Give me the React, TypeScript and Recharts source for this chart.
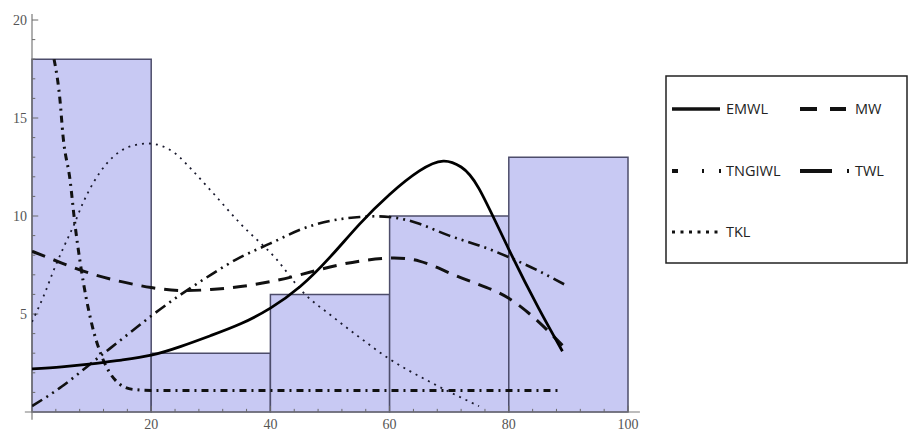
import { ComposedChart, Line, XAxis, YAxis, ReferenceArea, ReferenceLine } from "recharts";

// histogram bins
const binStart = [0, 20, 40, 60, 80];
const binEnd = [20, 40, 60, 80, 100];
const binCount = [18, 3, 6, 10, 13];

// fitted curves
const emwlX = [0, 5, 10, 15, 20, 25, 30, 35, 40, 45, 50, 55, 60, 65, 69, 72, 75, 80, 85, 89];
const emwlY = [2.2, 2.3, 2.45, 2.65, 2.9, 3.35, 3.9, 4.5, 5.3, 6.4, 7.9, 9.6, 11.1, 12.3, 12.8, 12.5, 11.4, 8.3, 5.3, 3.1];

const mwX = [0, 5, 10, 15, 20, 25, 30, 35, 40, 45, 50, 55, 60, 65, 70, 75, 80, 85, 89];
const mwY = [8.2, 7.6, 7.05, 6.65, 6.35, 6.2, 6.25, 6.4, 6.65, 7.0, 7.4, 7.7, 7.85, 7.7, 7.1, 6.5, 5.8, 4.6, 3.4];

const tngiwlX = [0, 5, 10, 15, 20, 25, 30, 35, 40, 45, 50, 55, 60, 65, 70, 75, 80, 85, 90];
const tngiwlY = [0.3, 1.3, 2.5, 3.7, 4.9, 6.0, 7.0, 7.9, 8.6, 9.3, 9.75, 9.95, 9.95, 9.6, 9.0, 8.5, 7.9, 7.2, 6.4];

const twlX = [3.7, 4.7, 5.2, 6.4, 7.2, 8.1, 10.1, 11.5, 12.5, 14.8, 17, 20, 40, 60, 80, 89];
const twlY = [18, 15.9, 14.1, 11.8, 9.6, 7.6, 4.4, 3.0, 2.3, 1.4, 1.15, 1.1, 1.1, 1.1, 1.1, 1.1];

const tklX = [0, 2.2, 3.6, 5.3, 6.9, 8.6, 10.3, 12.6, 14.8, 17, 19.5, 24, 27, 30, 35, 41, 45.5, 50.5, 55, 59.5, 67, 75];
const tklY = [4.6, 6.1, 7.2, 8.4, 9.45, 10.7, 11.7, 12.7, 13.3, 13.6, 13.7, 13.2, 12.3, 11.3, 9.6, 7.8, 6.1, 4.85, 3.8, 2.8, 1.5, 0.3];

const xMajor = [20, 40, 60, 80, 100];
const xTicks = [4, 8, 12, 16, 20, 24, 28, 32, 36, 40, 44, 48, 52, 56, 60, 64, 68, 72, 76, 80, 84, 88, 92, 96, 100];
const yMajor = [5, 10, 15, 20];
const yTicks = [1, 2, 3, 4, 5, 6, 7, 8, 9, 10, 11, 12, 13, 14, 15, 16, 17, 18, 19, 20];

const zip = (xs: number[], ys: number[]) => xs.map((x, i) => ({ x, y: ys[i] }));

const axisColor = "#7a7a7a";
const tickColor = "#6a6a6a";
const labelFont = "'Liberation Serif', 'DejaVu Serif', serif";

// tick labels only; the tick marks are drawn as reference segments so they sit above the bars
function XTick(props: any) {
  const { x, y, payload } = props;
  if (!xMajor.includes(payload.value)) return <g />;
  return (
    <text x={x} y={y + 17} textAnchor="middle" fontFamily={labelFont} fontSize={14} fill="#555">
      {payload.value}
    </text>
  );
}

function YTick(props: any) {
  const { x, y, payload } = props;
  if (!yMajor.includes(payload.value)) return <g />;
  return (
    <text x={x - 5} y={y + 5} textAnchor="end" fontFamily={labelFont} fontSize={14} fill="#555">
      {payload.value}
    </text>
  );
}

const legendFont = "'Open Sans', 'Noto Sans', sans-serif";

function LegendBox() {
  return (
    <svg width={244} height={190} style={{ position: "absolute", left: 665, top: 75 }}>
      <rect x={1} y={1} width={241} height={187} fill="#fff" stroke="#222" strokeWidth={1.5} />
      <g fontFamily={legendFont} fontSize={14.5} fill="#222">
        <line x1={7} x2={55} y1={34} y2={34} stroke="#111" strokeWidth={3.5} />
        <text x={61} y={39}>EMWL</text>
        <line x1={135} x2={181} y1={34} y2={34} stroke="#111" strokeWidth={4} strokeDasharray="17 13" />
        <text x={190} y={39}>MW</text>

        <line x1={7} x2={58} y1={96} y2={96} stroke="#111" strokeWidth={4} strokeDasharray="6 24 2 15 2 50" />
        <text x={61} y={101}>TNGIWL</text>
        <line x1={135} x2={186} y1={96} y2={96} stroke="#111" strokeWidth={4} strokeDasharray="32 15 2 50" />
        <text x={190} y={101}>TWL</text>

        <line x1={7} x2={54} y1={157} y2={157} stroke="#111" strokeWidth={3} strokeDasharray="3 5.5" />
        <text x={61} y={162}>TKL</text>
      </g>
    </svg>
  );
}

export default function App() {
  return (
    <div style={{ position: "relative", width: 910, height: 433, background: "#fff" }}>
      <style>{`body{margin:0}`}</style>
      <ComposedChart width={910} height={433} margin={{ top: 20, right: 282, left: 0, bottom: 0 }}>
        {binStart.map((s, i) => (
          <ReferenceArea
            key={s}
            x1={s}
            x2={binEnd[i]}
            y1={0}
            y2={binCount[i]}
            fill="#c8c9f3"
            fillOpacity={1}
            stroke="#4d4d6b"
            strokeWidth={1.5}
            ifOverflow="visible"
          />
        ))}
        <XAxis
          type="number"
          dataKey="x"
          domain={[0, 100]}
          ticks={xTicks}
          interval={0}
          tickSize={0}
          tickMargin={0}
          tick={<XTick />}
          axisLine={false}
          height={21}
          allowDataOverflow
        />
        <YAxis
          type="number"
          dataKey="y"
          domain={[0, 20]}
          ticks={yTicks}
          interval={0}
          tickSize={0}
          tickMargin={0}
          tick={<YTick />}
          axisLine={false}
          width={32}
          allowDataOverflow
        />
        <ReferenceLine segment={[{ x: -1.2, y: 0 }, { x: 102, y: 0 }]} stroke={axisColor} strokeWidth={1.2} ifOverflow="visible" />
        <ReferenceLine segment={[{ x: 0, y: -0.4 }, { x: 0, y: 20.3 }]} stroke={axisColor} strokeWidth={1.2} ifOverflow="visible" />
        {xTicks.map((t) => (
          <ReferenceLine
            key={`xt${t}`}
            segment={[{ x: t, y: 0 }, { x: t, y: xMajor.includes(t) ? 0.32 : 0.16 }]}
            stroke={tickColor}
            strokeWidth={1}
            ifOverflow="visible"
          />
        ))}
        {yTicks.map((t) => (
          <ReferenceLine
            key={`yt${t}`}
            segment={[{ x: 0, y: t }, { x: yMajor.includes(t) ? 1.05 : 0.55, y: t }]}
            stroke={tickColor}
            strokeWidth={1}
            ifOverflow="visible"
          />
        ))}
        <Line data={zip(tklX, tklY)} dataKey="y" name="TKL" type="monotone" stroke="#1a1a2e" strokeWidth={1.8} strokeDasharray="2 5" dot={false} isAnimationActive={false} />
        <Line data={zip(twlX, twlY)} dataKey="y" name="TWL" type="monotone" stroke="#111" strokeWidth={3} strokeDasharray="7 5 2 5" dot={false} isAnimationActive={false} />
        <Line data={zip(tngiwlX, tngiwlY)} dataKey="y" name="TNGIWL" type="natural" stroke="#111" strokeWidth={2.6} strokeDasharray="12 5 2 5 2 5" dot={false} isAnimationActive={false} />
        <Line data={zip(mwX, mwY)} dataKey="y" name="MW" type="natural" stroke="#111" strokeWidth={3} strokeDasharray="14 9" dot={false} isAnimationActive={false} />
        <Line data={zip(emwlX, emwlY)} dataKey="y" name="EMWL" type="natural" stroke="#000" strokeWidth={2.8} dot={false} isAnimationActive={false} />
      </ComposedChart>
      <LegendBox />
    </div>
  );
}
